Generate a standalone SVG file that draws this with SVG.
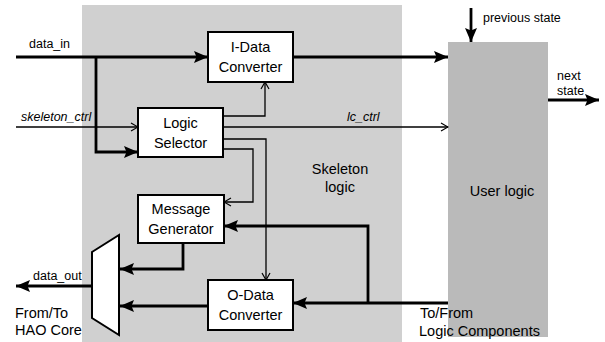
<svg xmlns="http://www.w3.org/2000/svg" width="605" height="342" viewBox="0 0 605 342">
  <defs>
    <marker id="arrowFilled" markerUnits="userSpaceOnUse" markerWidth="15" markerHeight="13" refX="14" refY="6.5" orient="auto">
      <path d="M0,0.5 L14,6.5 L0,12.5 L2.5,6.5 z" fill="#000"/>
    </marker>
    <marker id="arrowOpen" markerUnits="userSpaceOnUse" markerWidth="9" markerHeight="10" refX="8" refY="5" orient="auto">
      <path d="M1,1 L8,5 L1,9" fill="none" stroke="#000" stroke-width="1.2"/>
    </marker>
    <style>
      .box { fill: #fff; stroke: #000; stroke-width: 2; }
      .lbl { font-family: "Liberation Sans", Arial, sans-serif; font-size: 14.5px; fill: #000; text-anchor: middle; }
      .sig { font-family: "Liberation Sans", Arial, sans-serif; font-size: 12.5px; fill: #000; }
      .ital { font-style: italic; }
      .big { font-family: "Liberation Sans", Arial, sans-serif; font-size: 14.5px; fill: #000; }
      .data { fill: none; stroke: #000; stroke-width: 2.8; }
      .ctrl { fill: none; stroke: #000; stroke-width: 1.3; }
      .fa { marker-end: url(#arrowFilled); }
      .oa { marker-end: url(#arrowOpen); }
    </style>
  </defs>

  <rect width="605" height="342" fill="#fff"/>

  <!-- shaded regions -->
  <g id="skeleton-logic">
    <rect x="82" y="5" width="320" height="337" fill="#d0d0d0"/>
    <text class="lbl" x="340" y="174">Skeleton</text>
    <text class="lbl" x="340" y="192">logic</text>
  </g>
  <g id="user-logic">
    <rect x="448" y="42" width="100" height="295" fill="#bababa"/>
    <text class="lbl" x="502" y="196">User logic</text>
  </g>

  <!-- connectors -->
  <g id="connectors">
    <!-- data path -->
    <polyline class="data fa" points="16,57 208,57"/>
    <polyline class="data fa" points="96,57 96,152 138,152"/>
    <polyline class="data fa" points="293,57 448,57"/>
    <polyline class="data fa" points="448,303 293,303"/>
    <polyline class="data fa" points="368,303 368,226 224,226"/>
    <polyline class="data fa" points="183,243 183,269 120,269"/>
    <polyline class="data fa" points="208,306 120,306"/>
    <polyline class="data fa" points="92,286 16,286"/>
    <polyline class="data fa" points="471,8 471,42"/>
    <polyline class="data fa" points="548,100 599,100"/>
    <!-- control path -->
    <polyline class="ctrl oa" points="16,127 138,127"/>
    <polyline class="ctrl oa" points="223,127 448,127"/>
    <polyline class="ctrl oa" points="223,116 265,116 265,82"/>
    <polyline class="ctrl oa" points="223,139 266,139 266,280"/>
    <polyline class="ctrl oa" points="223,149 253,149 253,202 224,202"/>
  </g>

  <!-- signal labels -->
  <g id="signal-labels">
    <text class="sig" x="29" y="48">data_in</text>
    <text class="sig ital" x="21" y="121">skeleton_ctrl</text>
    <text class="sig ital" x="347" y="121">lc_ctrl</text>
    <text class="sig" x="483" y="22">previous state</text>
    <text class="sig" x="557" y="80">next</text>
    <text class="sig" x="557" y="95">state</text>
    <text class="sig" x="33" y="280">data_out</text>
    <text class="big" x="15" y="318">From/To</text>
    <text class="big" x="15" y="335">HAO Core</text>
    <text class="big" x="420" y="318">To/From</text>
    <text class="big" x="419" y="336">Logic Components</text>
  </g>

  <!-- blocks -->
  <g id="i-data-converter">
    <rect class="box" x="208" y="32" width="85" height="50"/>
    <text class="lbl" x="250.5" y="52">I-Data</text>
    <text class="lbl" x="250.5" y="72">Converter</text>
  </g>
  <g id="logic-selector">
    <rect class="box" x="138" y="108" width="85" height="49"/>
    <text class="lbl" x="180.5" y="128">Logic</text>
    <text class="lbl" x="180.5" y="148">Selector</text>
  </g>
  <g id="message-generator">
    <rect class="box" x="138" y="195" width="86" height="48"/>
    <text class="lbl" x="181" y="214">Message</text>
    <text class="lbl" x="181" y="234">Generator</text>
  </g>
  <g id="o-data-converter">
    <rect class="box" x="208" y="280" width="85" height="50"/>
    <text class="lbl" x="250.5" y="300">O-Data</text>
    <text class="lbl" x="250.5" y="320">Converter</text>
  </g>
  <g id="mux">
    <polygon class="box" points="92,252 119,235 119,335 92,318"/>
  </g>
</svg>
